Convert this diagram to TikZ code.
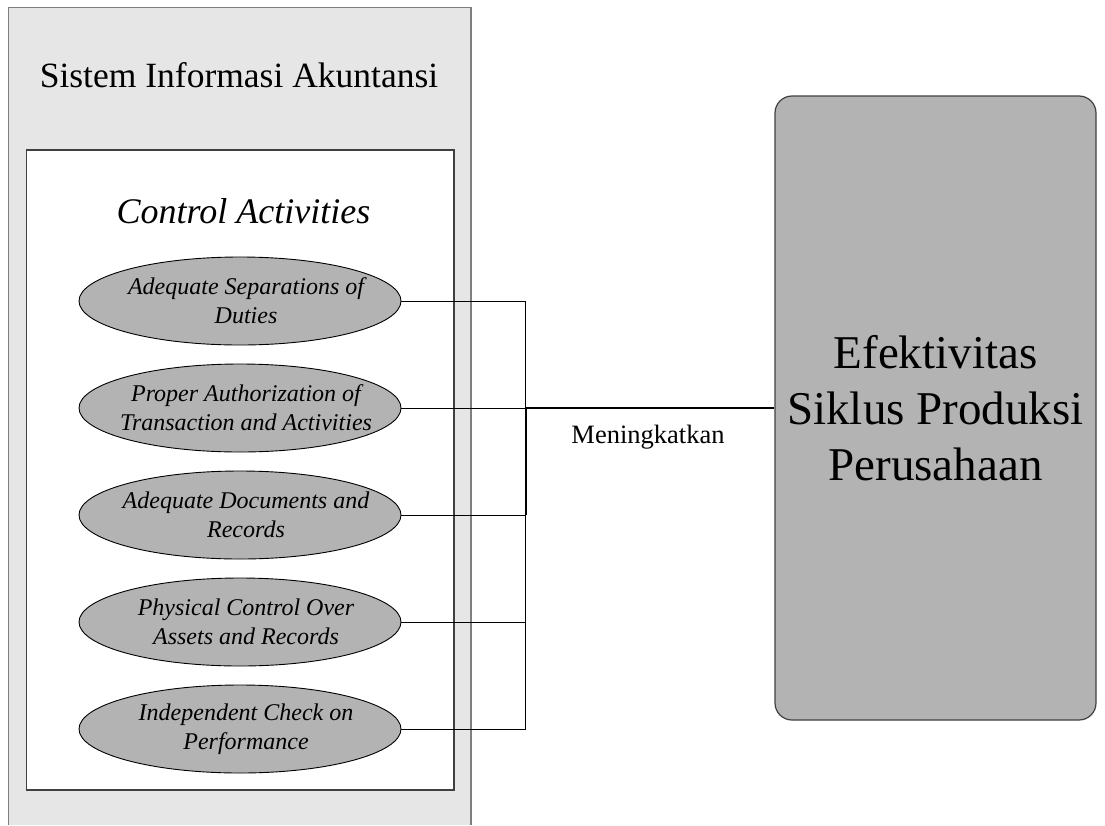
\documentclass[tikz,border=0pt]{standalone}
\usepackage{fontspec}
\setmainfont{Liberation Serif}
\usetikzlibrary{shapes.geometric}
\definecolor{outerfill}{HTML}{E6E6E6}
\definecolor{outerline}{HTML}{7F7F7F}
\definecolor{innerline}{HTML}{404040}
\definecolor{boxfill}{HTML}{B3B3B3}
\tikzset{
  actell/.style={ellipse, draw=black, line width=0.9pt, fill=boxfill,
    minimum width=322pt, minimum height=88pt, inner sep=0pt},
  acttext/.style={align=center, font=\fontsize{24}{29}\selectfont\itshape, inner sep=0pt},
  conn/.style={draw=black, line width=1pt},
  mainconn/.style={draw=black, line width=1.8pt},
  effbox/.style={draw=innerline, line width=1.2pt, fill=boxfill, rounded corners=17pt,
    minimum width=321pt, minimum height=624pt, inner sep=0pt,
    align=center, font=\fontsize{47}{56}\selectfont}
}
\begin{document}
\begin{tikzpicture}[x=1pt,y=-1pt]
\useasboundingbox (0,0) rectangle (1105,825);
% outer container (bottom edge lies outside the picture)
\fill[outerfill] (8.6,7.5) rectangle (471,825);
\draw[outerline, line width=1.5pt] (8.6,825) -- (8.6,7.5) -- (471,7.5) -- (471,825);
\node[anchor=base, font=\fontsize{35.5}{42}\selectfont] (title) at (239,87) {Sistem Informasi Akuntansi};
% inner container
\draw[innerline, fill=white, line width=1.2pt] (26.4,150) rectangle (454,790);
\node[anchor=base, font=\fontsize{36}{43}\selectfont\itshape] (ctrl) at (243.5,223) {Control Activities};
% activities
\node[actell] (e1) at (240,301) {};
\node[actell] (e2) at (240,408) {};
\node[actell] (e3) at (240,515) {};
\node[actell] (e4) at (240,622) {};
\node[actell] (e5) at (240,729) {};
\node[acttext] (t1) at ([xshift=6pt]e1.center) {Adequate Separations of\\Duties};
\node[acttext] (t2) at ([xshift=6pt]e2.center) {Proper Authorization of\\Transaction and Activities};
\node[acttext] (t3) at ([xshift=6pt]e3.center) {Adequate Documents and\\Records};
\node[acttext] (t4) at ([xshift=6pt]e4.center) {Physical Control Over\\Assets and Records};
\node[acttext] (t5) at ([xshift=6pt]e5.center) {Independent Check on\\Performance};
% target
\node[effbox] (eff) at (935.5,408) {Efektivitas\\Siklus Produksi\\Perusahaan};
% bus
\coordinate (b1) at (525.7,301);
\coordinate (b2) at (525.7,408);
\coordinate (b3) at (525.7,515);
\coordinate (b4) at (525.7,622);
\coordinate (b5) at (525.7,729);
\draw[conn] (e1.east) -- (b1);
\draw[conn] (e2.east) -- (b2);
\draw[conn] (e3.east) -- (b3);
\draw[conn] (e4.east) -- (b4);
\draw[conn] (e5.east) -- (b5);
\draw[conn] (b1) -- (b5);
\draw[mainconn] (b2) -- (b3);
\draw[mainconn] (b2) -- (eff.west);
\node[anchor=base, font=\fontsize{26.5}{31}\selectfont] (lbl) at (648,443) {Meningkatkan};
\end{tikzpicture}
\end{document}
